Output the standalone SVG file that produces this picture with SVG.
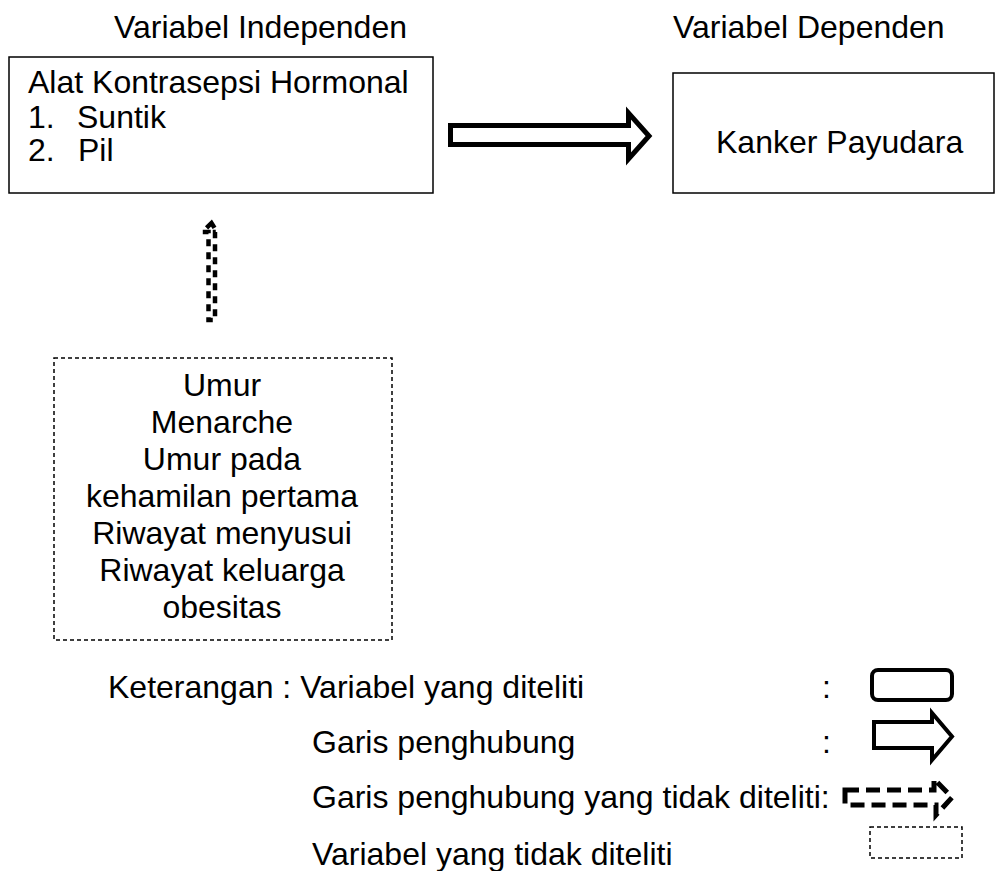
<svg xmlns="http://www.w3.org/2000/svg" width="995" height="871" viewBox="0 0 995 871">
<style>
text{font-family:"Liberation Sans",Arial,sans-serif;font-size:32px;fill:#000}
.box{fill:#fff;stroke:#000;stroke-width:1.5}
.dbox{fill:#fff;stroke:#000;stroke-width:1.5;stroke-dasharray:4 3}
.blk{fill:#fff;stroke:#000;stroke-width:5;stroke-linejoin:miter}
.dblk{fill:none;stroke:#000;stroke-width:4.5;stroke-dasharray:7 6}
</style>
<rect width="995" height="871" fill="#fff"/>
<text x="114" y="38">Variabel Independen</text>
<text x="673" y="38">Variabel Dependen</text>
<g id="independen">
<rect class="box" x="9" y="57" width="424" height="136"/>
<text x="28" y="93">Alat Kontrasepsi Hormonal</text>
<text x="28" y="128">1.</text><text x="77" y="128">Suntik</text>
<text x="28" y="161">2.</text><text x="78" y="161">Pil</text>
</g>
<g id="dependen">
<rect class="box" x="673" y="73" width="321" height="120"/>
<text x="716" y="153">Kanker Payudara</text>
</g>
<g id="confounder">
<rect class="dbox" x="54" y="358" width="338" height="282"/>
<g text-anchor="middle">
<text x="222" y="396">Umur</text>
<text x="222" y="433">Menarche</text>
<text x="222" y="470">Umur pada</text>
<text x="222" y="507">kehamilan pertama</text>
<text x="222" y="544">Riwayat menyusui</text>
<text x="222" y="581">Riwayat keluarga</text>
<text x="222" y="618">obesitas</text>
</g>
</g>
<g id="connectors">
<polygon class="blk" points="450.5,125.5 628.5,125.5 628.5,113 649,136 628.5,159 628.5,144.5 450.5,144.5"/>
<polygon class="dblk" points="211.5,223 202.5,232 208.5,232 208.5,320 215,320 215,232 217,232"/>
</g>
<g id="legend">
<text x="108" y="698">Keterangan : Variabel yang diteliti</text>
<text x="822" y="698">:</text>
<text x="312" y="753">Garis penghubung</text>
<text x="822" y="753">:</text>
<text x="312" y="808">Garis penghubung yang tidak diteliti:</text>
<text x="312" y="865">Variabel yang tidak diteliti</text>
<rect x="872" y="670" width="80" height="30" rx="6" fill="#fff" stroke="#000" stroke-width="4"/>
<polygon fill="#fff" stroke="#000" stroke-width="4" points="874,722 932,722 932,713 952,736.5 932,760 932,748 874,748"/>
<polygon fill="none" stroke="#000" stroke-width="5" stroke-dasharray="14 7" points="845,790 934,790 934,779 952,797.5 936,815 936,805 845,805"/>
<rect x="870" y="827" width="92" height="31" fill="none" stroke="#000" stroke-width="1.5" stroke-dasharray="4 3"/>
</g>
</svg>
